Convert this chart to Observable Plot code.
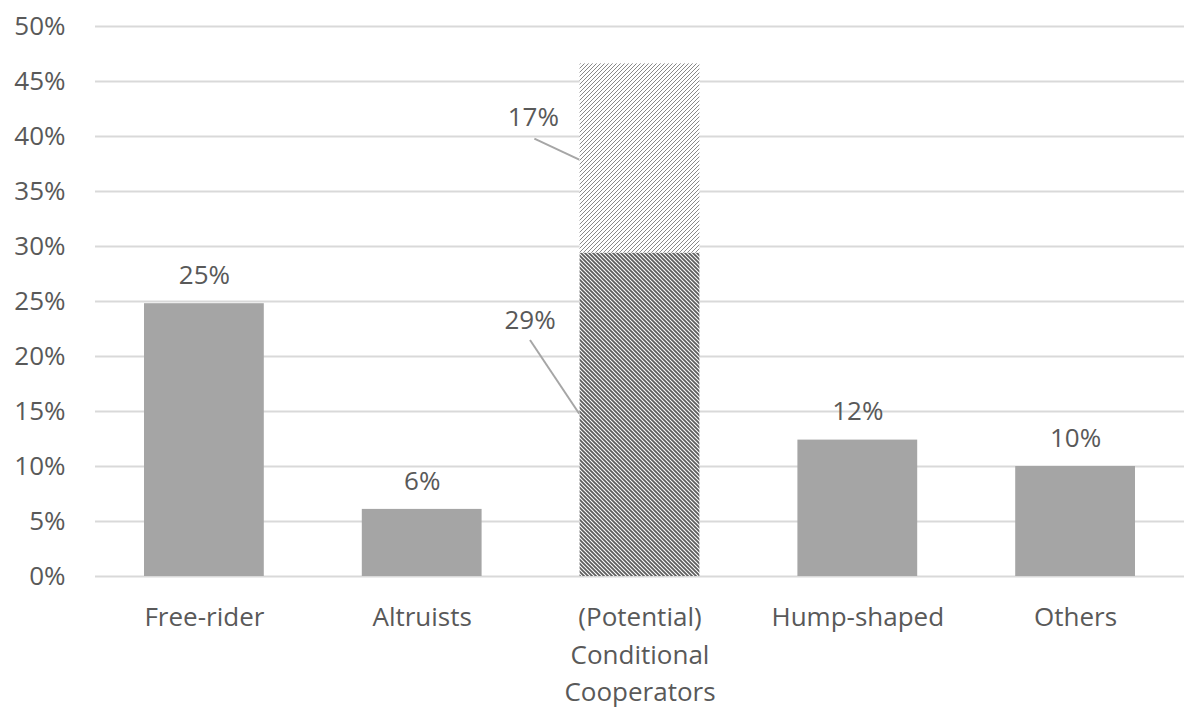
<!DOCTYPE html>
<html>
<head>
<meta charset="utf-8">
<script src="https://cdn.jsdelivr.net/npm/d3@7"></script>
<script src="https://cdn.jsdelivr.net/npm/@observablehq/plot@0.6"></script>
<style>
  html, body { margin: 0; padding: 0; background: #fff; }
</style>
</head>
<body>
<div id="chart"></div>
<script>
// Player types and their shares (%)
const categories = ["Free-rider", "Altruists", "(Potential)\nConditional\nCooperators", "Hump-shaped", "Others"];
const shares = [24.8, 6.1, null, 12.4, 10.0];

// The conditional-cooperator column is split into two stacked segments
const conditionalSegments = ["Conditional", "Potential"];
const conditionalShares = [29.4, 17.2];

const yTicks = [0, 5, 10, 15, 20, 25, 30, 35, 40, 45, 50];

const pct = v => `${Math.round(v)}%`;

// Build bar rows (one per rectangle)
const bars = [];
categories.forEach((c, i) => {
  if (shares[i] != null) bars.push({i, kind: "solid", y1: 0, y2: shares[i]});
});
const condIndex = shares.findIndex(v => v == null);
let base = 0;
conditionalSegments.forEach((kind, k) => {
  bars.push({i: condIndex, kind, y1: base, y2: base + conditionalShares[k], value: conditionalShares[k]});
  base += conditionalShares[k];
});

const fills = {
  solid: "#a5a5a5",
  Conditional: "url(#hatch-dense)",
  Potential: "url(#hatch-light)"
};

// Callouts for the stacked segments, placed left of the column with a leader line
const callouts = [
  {value: conditionalShares[1], labelY: 41.7, fromY: 39.8, toY: 37.9, labelX: -0.49, fromX: -0.485},
  {value: conditionalShares[0], labelY: 23.3, fromY: 21.5, toY: 14.8, labelX: -0.505, fromX: -0.505}
];

const halfBar = 0.275;
const textColor = "#595959";

const chart = Plot.plot({
  width: 1184,
  height: 711,
  marginLeft: 95,
  marginRight: 0,
  marginTop: 26,
  marginBottom: 135,
  style: {fontFamily: "'Open Sans', sans-serif", fontSize: "26px", color: textColor, background: "#fff"},
  x: {domain: [-0.5, 4.5], label: null},
  y: {domain: [0, 50], label: null},
  color: {type: "identity"},
  marks: [
    Plot.gridY(yTicks, {stroke: "#d9d9d9", strokeOpacity: 1, strokeWidth: 2}),
    Plot.axisY(yTicks, {tickSize: 0, tickPadding: 30, tickFormat: d => `${d}%`, fill: textColor, fontSize: 26}),
    Plot.rectY(bars, {
      x1: d => d.i - halfBar,
      x2: d => d.i + halfBar,
      y1: "y1",
      y2: "y2",
      fill: d => fills[d.kind]
    }),
    Plot.axisX(categories.map((c, i) => i), {
      tickSize: 0,
      tickPadding: 23,
      tickFormat: i => categories[i],
      lineHeight: 1.44,
      fontSize: 26,
      fill: textColor
    }),
    Plot.text(bars.filter(d => d.kind === "solid"), {
      x: "i",
      y: "y2",
      text: d => pct(d.y2),
      dy: -28,
      fill: textColor,
      fontSize: 26
    }),
    Plot.link(callouts, {
      x1: d => condIndex + d.fromX,
      x2: () => condIndex - halfBar - 0.004,
      y1: "fromY",
      y2: "toY",
      stroke: "#a6a6a6",
      strokeWidth: 2
    }),
    Plot.text(callouts, {
      x: d => condIndex + d.labelX,
      y: "labelY",
      text: d => pct(d.value),
      fill: textColor,
      fontSize: 26
    })
  ]
});

// Hatch patterns for the stacked column
const svg = chart.tagName.toLowerCase() === "svg" ? chart : chart.querySelector("svg");
const ns = "http://www.w3.org/2000/svg";
const defs = document.createElementNS(ns, "defs");
defs.innerHTML = `
  <pattern id="hatch-dense" patternUnits="userSpaceOnUse" width="4" height="4">
    <rect width="4" height="4" fill="#ffffff"/>
    <path d="M-1,-1 L5,5 M-1,3 L1,5 M3,-1 L5,1" stroke="#5e5e5e" stroke-width="1.8"/>
  </pattern>
  <pattern id="hatch-light" patternUnits="userSpaceOnUse" width="4" height="4">
    <rect width="4" height="4" fill="#ffffff"/>
    <path d="M-1,5 L5,-1 M-1,1 L1,-1 M3,5 L5,3" stroke="#7a7a7a" stroke-width="0.9"/>
  </pattern>`;
svg.insertBefore(defs, svg.firstChild);

document.getElementById("chart").appendChild(chart);
</script>
</body>
</html>
